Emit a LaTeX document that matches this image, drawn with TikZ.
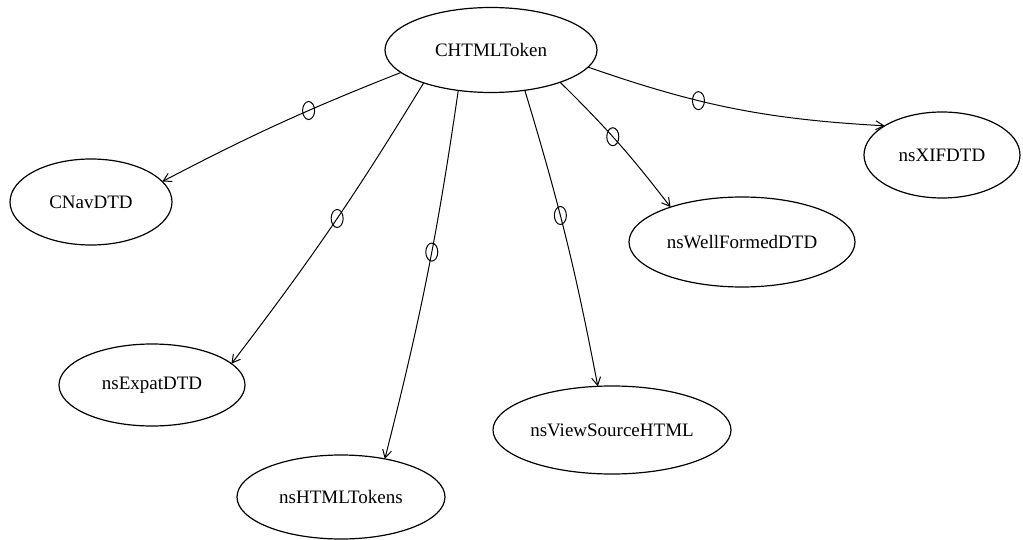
\documentclass[tikz,border=0pt]{standalone}
\usepackage{fontspec}
\setmainfont{Liberation Serif}
\usetikzlibrary{shapes.geometric,arrows.meta}

\begin{document}
\begin{tikzpicture}[y=1pt, x=1pt, yscale=-1, inner sep=0pt, outer sep=0pt,
    cls/.style={draw=black, ellipse, line width=1.2pt, font=\fontsize{19}{21}\selectfont},
    uses/.style={draw=black, line width=1pt, -{Straight Barb[length=8pt,width=9pt]}},
    ring/.style={draw=black, ellipse, line width=1pt, minimum width=12pt, minimum height=18pt}]

  \useasboundingbox (0,0) rectangle (1023,540);

  % classes
  \node[cls, minimum width=212pt, minimum height=85pt] (chtmltoken) at (491,50) {CHTMLToken};
  \node[cls, minimum width=162pt, minimum height=86pt] (cnavdtd) at (91,202) {CNavDTD};
  \node[cls, minimum width=156pt, minimum height=86pt] (nsxifdtd) at (942,155) {nsXIFDTD};
  \node[cls, minimum width=226pt, minimum height=90pt] (nswellformed) at (742,242) {nsWellFormedDTD};
  \node[cls, minimum width=186pt, minimum height=82pt] (nsexpatdtd) at (152,385) {nsExpatDTD};
  \node[cls, minimum width=238pt, minimum height=88pt] (nsviewsource) at (612,430) {nsViewSourceHTML};
  \node[cls, minimum width=208pt, minimum height=84pt] (nshtmltokens) at (341,497) {nsHTMLTokens};

  % associations
  \draw[uses] (chtmltoken.194) to[bend left=3] node[ring, pos=0.37] (r1) {} (cnavdtd.16);
  \draw[uses] (chtmltoken.206) to[bend right=3] node[ring, pos=0.47] (r2) {} (nsexpatdtd.15);
  \draw[uses] (chtmltoken.231) to[bend right=3] node[ring, pos=0.43] (r3) {} (nshtmltokens.41);
  \draw[uses] (chtmltoken.310) to[bend right=3] node[ring, pos=0.42] (r4) {} (nsviewsource.108);
  \draw[uses] (chtmltoken.335) to[bend right=4] node[ring, pos=0.45] (r5) {} (nswellformed.154);
  \draw[uses] (chtmltoken.350) to[bend left=8] node[ring, pos=0.37] (r6) {} (nsxifdtd.153);

\end{tikzpicture}
\end{document}
